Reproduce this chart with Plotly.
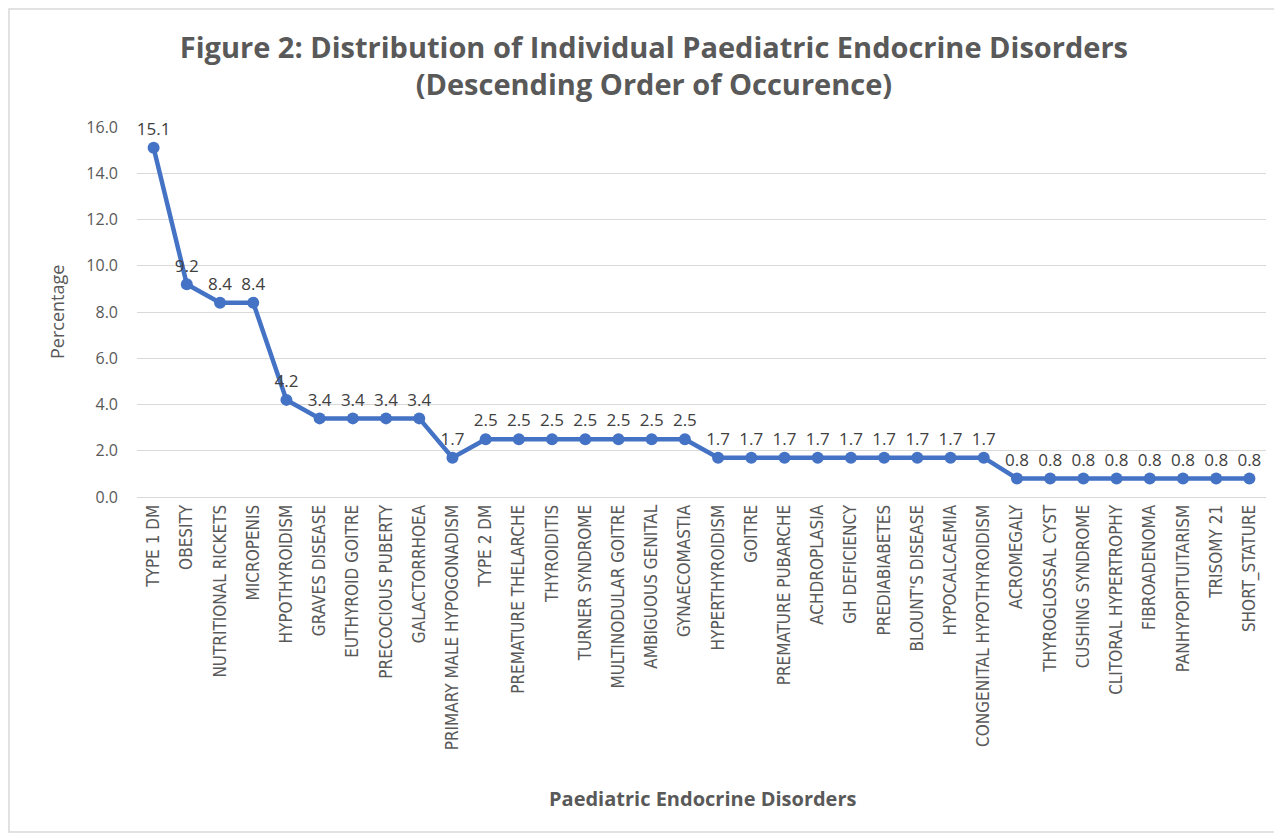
import plotly.graph_objects as go

categories = [
    "TYPE 1 DM", "OBESITY", "NUTRITIONAL RICKETS", "MICROPENIS", "HYPOTHYROIDISM",
    "GRAVES DISEASE", "EUTHYROID GOITRE", "PRECOCIOUS PUBERTY", "GALACTORRHOEA",
    "PRIMARY MALE HYPOGONADISM", "TYPE 2 DM", "PREMATURE THELARCHE", "THYROIDITIS",
    "TURNER SYNDROME", "MULTINODULAR GOITRE", "AMBIGUOUS GENITAL", "GYNAECOMASTIA",
    "HYPERTHYROIDISM", "GOITRE", "PREMATURE PUBARCHE", "ACHDROPLASIA", "GH DEFICIENCY",
    "PREDIABIABETES", "BLOUNT'S DISEASE", "HYPOCALCAEMIA", "CONGENITAL HYPOTHYROIDISM",
    "ACROMEGALY", "THYROGLOSSAL CYST", "CUSHING SYNDROME", "CLITORAL HYPERTROPHY",
    "FIBROADENOMA", "PANHYPOPITUITARISM", "TRISOMY 21", "SHORT_STATURE",
]
percentages = [
    15.1, 9.2, 8.4, 8.4, 4.2,
    3.4, 3.4, 3.4, 3.4,
    1.7, 2.5, 2.5, 2.5,
    2.5, 2.5, 2.5, 2.5,
    1.7, 1.7, 1.7, 1.7, 1.7,
    1.7, 1.7, 1.7, 1.7,
    0.8, 0.8, 0.8, 0.8,
    0.8, 0.8, 0.8, 0.8,
]
y_ticks = [0, 2, 4, 6, 8, 10, 12, 14, 16]

FIG_W, FIG_H = 1274, 828
M_L, M_R, M_T, M_B = 129, 16, 119, 339
PW = FIG_W - M_L - M_R
PH = FIG_H - M_T - M_B

FONT = "Open Sans, Lato, sans-serif"
NARROW = "Liberation Sans Narrow, DejaVu Sans Condensed, Open Sans, sans-serif"

fig = go.Figure()
fig.add_trace(go.Scatter(
    x=categories, y=percentages,
    mode="lines+markers+text",
    line=dict(color="#4472C4", width=4.5),
    marker=dict(color="#4472C4", size=12),
    text=[f"{v:.1f}" for v in percentages],
    textposition="top center",
    textfont=dict(family=FONT, size=17, color="#404040"),
    cliponaxis=False,
    hoverinfo="x+y",
))

def px_x(px):
    return (px - M_L) / PW

def px_y(py):
    return 1 - (py - M_T) / PH

fig.update_layout(
    width=FIG_W, height=FIG_H,
    margin=dict(l=M_L, r=M_R, t=M_T, b=M_B, autoexpand=False),
    paper_bgcolor="white", plot_bgcolor="white",
    showlegend=False,
    title=dict(
        text="<b>Figure 2: Distribution of Individual Paediatric Endocrine Disorders<br>(Descending Order of Occurence)</b>",
        x=0.507, xanchor="center", y=0.94, yanchor="top",
        font=dict(family=FONT, size=29, color="#595959"),
    ),
    xaxis=dict(
        type="category",
        range=[-0.5, len(categories) - 0.5],
        tickangle=-90,
        tickfont=dict(family=NARROW, size=17, color="#595959"),
        showgrid=False, showline=True, linecolor="#D9D9D9", linewidth=1,
        ticks="", automargin=False,
    ),
    yaxis=dict(
        range=[0, 16],
        tickvals=y_ticks,
        tickformat=".1f",
        tickfont=dict(family=FONT, size=16, color="#595959"),
        ticklabelstandoff=18,
        showgrid=True, gridcolor="#D9D9D9", gridwidth=1,
        zeroline=False, showline=False, ticks="", automargin=False,
    ),
    annotations=[
        dict(text="Percentage", xref="paper", yref="paper",
             x=px_x(49), y=px_y(304), xanchor="center", yanchor="middle",
             textangle=-90, showarrow=False,
             font=dict(family=FONT, size=18, color="#595959")),
        dict(text="<b>Paediatric Endocrine Disorders</b>", xref="paper", yref="paper",
             x=px_x(695), y=px_y(790), xanchor="center", yanchor="middle",
             showarrow=False,
             font=dict(family=FONT, size=20, color="#595959")),
    ],
)

fig.add_shape(type="rect", xref="paper", yref="paper",
              x0=px_x(1), x1=px_x(FIG_W - 2),
              y0=px_y(FIG_H - 4), y1=px_y(1),
              line=dict(color="#D9D9D9", width=1.5), fillcolor="rgba(0,0,0,0)", layer="below")

fig.write_html("out.html")
